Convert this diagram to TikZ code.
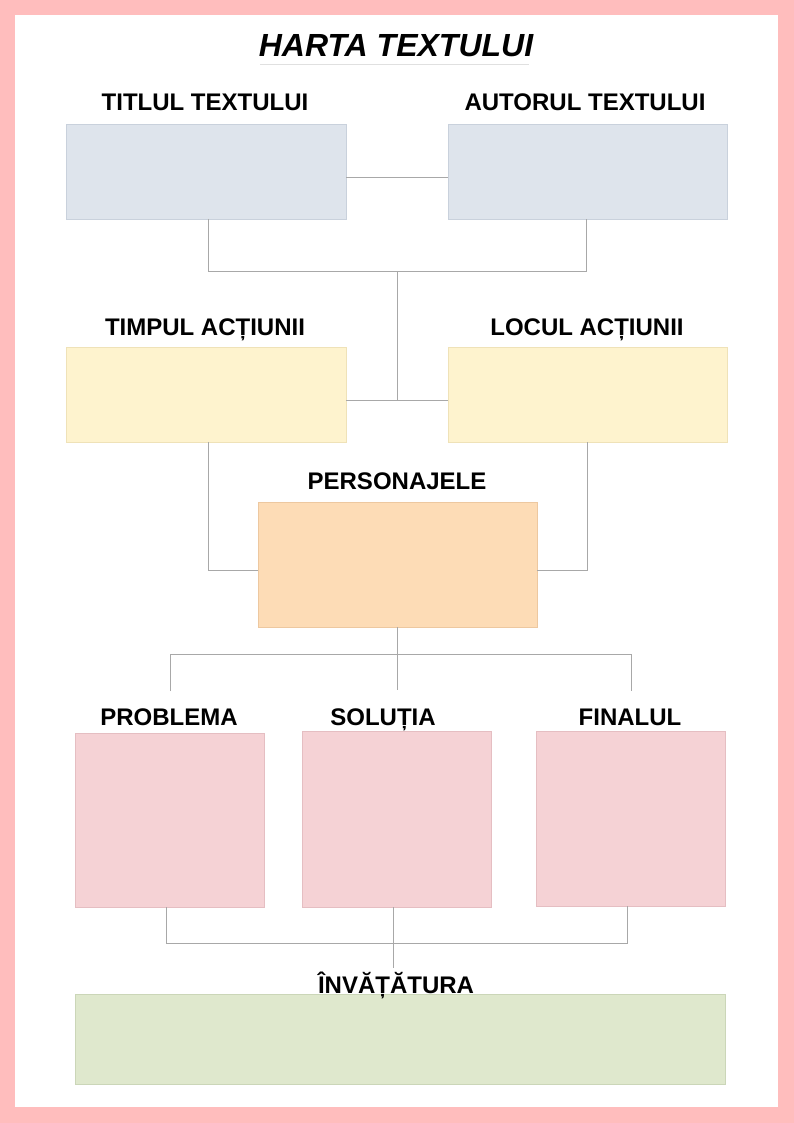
\documentclass[tikz,border=0pt]{standalone}
\usepackage{fontspec}
\setmainfont{Liberation Sans}
\definecolor{pinkframe}{HTML}{FFBDBD}
\definecolor{bluebox}{HTML}{DEE4EC}
\definecolor{bluebd}{HTML}{C9D1DC}
\definecolor{yelbox}{HTML}{FEF3CE}
\definecolor{yelbd}{HTML}{EFE2B8}
\definecolor{orabox}{HTML}{FDDCB6}
\definecolor{orabd}{HTML}{EDC8A0}
\definecolor{pinkbox}{HTML}{F5D2D5}
\definecolor{pinkbd}{HTML}{E5BEC2}
\definecolor{grebox}{HTML}{DFE8CD}
\definecolor{grebd}{HTML}{CBD6B8}
\definecolor{conn}{HTML}{A8A8A8}
\begin{document}
\begin{tikzpicture}[x=1pt,y=-1pt,
  lbl/.style={font=\fontsize{24}{28}\selectfont\bfseries, inner sep=0pt, anchor=base},
  wire/.style={draw=conn, line width=0.9pt},
  boxbase/.style={line width=0.8pt}]
\useasboundingbox (0,0) rectangle (794,1123);
\fill[pinkframe] (0,0) rectangle (794,1123);
\fill[white] (15,15) rectangle (778,1107);
% title
\node[inner sep=0pt, anchor=base, font=\fontsize{32}{36}\selectfont\bfseries\itshape] (title) at (396,57) {HARTA TEXTULUI};
\coordinate (ulL) at (260,64);
\coordinate (ulR) at (529,64);
\draw[draw=black!12, line width=0.8pt] (ulL) -- (ulR);
% boxes
\draw[boxbase, fill=bluebox, draw=bluebd] (66,124) rectangle (346,219);
\draw[boxbase, fill=bluebox, draw=bluebd] (448,124) rectangle (727,219);
\draw[boxbase, fill=yelbox, draw=yelbd] (66,347) rectangle (346,442);
\draw[boxbase, fill=yelbox, draw=yelbd] (448,347) rectangle (727,442);
\draw[boxbase, fill=orabox, draw=orabd] (258,502) rectangle (537,627);
\draw[boxbase, fill=pinkbox, draw=pinkbd] (75,733) rectangle (264,907);
\draw[boxbase, fill=pinkbox, draw=pinkbd] (302,731) rectangle (491,907);
\draw[boxbase, fill=pinkbox, draw=pinkbd] (536,731) rectangle (725,906);
\draw[boxbase, fill=grebox, draw=grebd] (75,994) rectangle (725,1084);
% named coordinates for connections
\coordinate (tR) at (346,177); \coordinate (aL) at (448,177);
\coordinate (tB) at (208,219); \coordinate (aB) at (586,219);
\coordinate (j1L) at (208,271); \coordinate (j1R) at (586,271); \coordinate (j1M) at (397,271);
\coordinate (j2M) at (397,400);
\coordinate (tiR) at (346,400); \coordinate (loL) at (448,400);
\coordinate (tiB) at (208,442); \coordinate (loB) at (587,442);
\coordinate (tiC) at (208,570); \coordinate (loC) at (587,570);
\coordinate (peL) at (258,570); \coordinate (peR) at (537,570);
\coordinate (peB) at (397,627); \coordinate (peE) at (397,690);
\coordinate (jL) at (170,654); \coordinate (jR) at (631,654);
\coordinate (jLe) at (170,691); \coordinate (jRe) at (631,691);
\coordinate (prB) at (166,907); \coordinate (fiB) at (627,906); \coordinate (soB) at (393,907);
\coordinate (kL) at (166,943); \coordinate (kR) at (627,943); \coordinate (kE) at (393,968);
% connectors
\draw[wire] (tR) -- (aL);
\draw[wire] (tB) -- (j1L) -- (j1R) -- (aB);
\draw[wire] (j1M) -- (j2M);
\draw[wire] (tiR) -- (loL);
\draw[wire] (tiB) -- (tiC) -- (peL);
\draw[wire] (loB) -- (loC) -- (peR);
\draw[wire] (peB) -- (peE);
\draw[wire] (jLe) -- (jL) -- (jR) -- (jRe);
\draw[wire] (prB) -- (kL) -- (kR) -- (fiB);
\draw[wire] (soB) -- (kE);
% labels
\node[lbl] (l1) at (205,111) {TITLUL TEXTULUI};
\node[lbl] (l2) at (585,111) {AUTORUL TEXTULUI};
\node[lbl] (l3) at (205,335) {TIMPUL ACȚIUNII};
\node[lbl] (l4) at (587,335) {LOCUL ACȚIUNII};
\node[lbl] (l5) at (397,489) {PERSONAJELE};
\node[lbl] (l6) at (169,725) {PROBLEMA};
\node[lbl] (l7) at (383,725) {SOLUȚIA};
\node[lbl] (l8) at (630,725) {FINALUL};
\node[lbl] (l9) at (396,993) {ÎNVĂȚĂTURA};
\end{tikzpicture}
\end{document}
